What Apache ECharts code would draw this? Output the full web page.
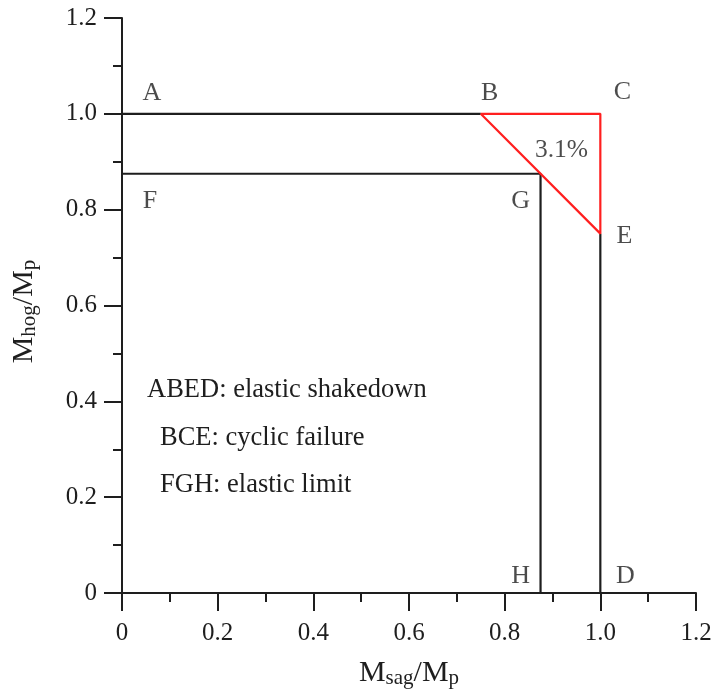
<!DOCTYPE html>
<html>
<head>
<meta charset="utf-8">
<script src="https://cdn.jsdelivr.net/npm/echarts@6/dist/echarts.min.js"></script>
<style>
  html, body { margin: 0; padding: 0; background: #fff; }
  #chart { width: 716px; height: 698px; }
</style>
</head>
<body>
<div id="chart"></div>
<script>
// Interaction diagram: hogging vs sagging moment, normalised by the plastic moment
const pointNames = ['A', 'B', 'C', 'D', 'E', 'F', 'G', 'H'];
const pointX = [0, 0.75, 1, 1, 1, 0, 0.875, 0.875];
const pointY = [1, 1, 1, 0, 0.75, 0.875, 0.875, 0];

// Boundaries drawn as paths through the named points
const blackPaths = ['AB', 'ED', 'FGH'];
const redPaths = ['BCEB'];

// Area of the cyclic-failure triangle, in percent
const cyclicFailureShare = 3.1;

const xTicks = [0, 0.2, 0.4, 0.6, 0.8, 1.0, 1.2];
const yTicks = [0, 0.2, 0.4, 0.6, 0.8, 1.0, 1.2];

const legendLines = [
  'ABED: elastic shakedown',
  'BCE: cyclic failure',
  'FGH: elastic limit'
];

const FONT = '"Liberation Serif", "Times New Roman", serif';
const INK = '#1e1e1e';

function pt(name) {
  const i = pointNames.indexOf(name);
  return [pointX[i], pointY[i]];
}

function pathSeries(path, color) {
  return {
    type: 'line',
    data: path.split('').map(pt),
    symbol: 'none',
    silent: true,
    animation: false,
    lineStyle: { color: color, width: 2.2 },
    z: color === INK ? 2 : 3
  };
}

// label placement next to each vertex (pixel offsets)
const labelOffsets = {
  A: [30, -21], B: [9, -21], C: [22, -22], D: [25, -17],
  E: [24, 3], F: [28, 27], G: [-20, 27], H: [-20, -17]
};

const fmtTick = v => (v === 0 ? '0' : v.toFixed(1));

const titleRich = {
  m: { fontFamily: FONT, fontSize: 30, color: INK, lineHeight: 32 },
  s: { fontFamily: FONT, fontSize: 21, color: INK, lineHeight: 12, verticalAlign: 'bottom' }
};

const axisCommon = {
  type: 'value',
  min: 0,
  max: 1.2,
  interval: 0.2,
  splitLine: { show: false },
  axisLine: { show: true, onZero: false, lineStyle: { color: INK, width: 2 } },
  axisTick: { show: true, inside: false, length: 18, lineStyle: { color: INK, width: 2 } },
  minorTick: { show: true, splitNumber: 2, length: 9, lineStyle: { color: INK, width: 2 } },
  nameLocation: 'middle'
};

const chart = echarts.init(document.getElementById('chart'), null, { renderer: 'canvas' });

const centroid = ['B', 'C', 'E'].map(pt).reduce((a, p) => [a[0] + p[0] / 3, a[1] + p[1] / 3], [0, 0]);

chart.setOption({
  backgroundColor: '#fff',
  animation: false,
  grid: { left: 122, right: 20, top: 18, bottom: 105 },
  xAxis: Object.assign({}, axisCommon, {
    name: '{m|M}{s|sag}{m|/M}{s|p}',
    nameGap: 64,
    nameTextStyle: { rich: titleRich },
    axisLabel: {
      margin: 28, fontFamily: FONT, fontSize: 25, color: INK,
      formatter: v => (xTicks.some(t => Math.abs(t - v) < 1e-9) ? fmtTick(v) : '')
    }
  }),
  yAxis: Object.assign({}, axisCommon, {
    name: '{m|M}{s|hog}{m|/M}{s|p}',
    nameGap: 82,
    nameRotate: 90,
    nameTextStyle: { rich: titleRich, padding: [0, 12, 0, 0] },
    axisLabel: {
      margin: 25, fontFamily: FONT, fontSize: 25, color: INK,
      formatter: v => (yTicks.some(t => Math.abs(t - v) < 1e-9) ? fmtTick(v) : '')
    }
  }),
  series: [
    ...blackPaths.map(p => pathSeries(p, INK)),
    ...redPaths.map(p => pathSeries(p, '#ff1f1f')),
    {
      type: 'scatter',
      symbolSize: 0,
      silent: true,
      z: 5,
      data: pointNames.map((n, i) => ({
        name: n,
        value: [pointX[i], pointY[i]],
        label: { offset: labelOffsets[n] }
      })),
      label: {
        show: true,
        position: 'inside',
        formatter: p => p.name,
        fontFamily: FONT, fontSize: 26, color: INK,
        align: 'center', verticalAlign: 'middle'
      }
    },
    {
      type: 'scatter',
      symbolSize: 0,
      silent: true,
      z: 5,
      data: [{ value: centroid, label: { offset: [1, -3] } }],
      label: {
        show: true,
        position: 'inside',
        formatter: () => cyclicFailureShare + '%',
        fontFamily: FONT, fontSize: 25.5, color: INK,
        align: 'center', verticalAlign: 'middle'
      }
    }
  ],
  graphic: legendLines.map((t, i) => ({
    type: 'text',
    left: i === 0 ? 147 : 160,
    top: [393, 441, 488][i] - 16,
    silent: true,
    style: { text: t, font: '26.5px ' + FONT, fill: INK }
  }))
});
</script>
</body>
</html>
